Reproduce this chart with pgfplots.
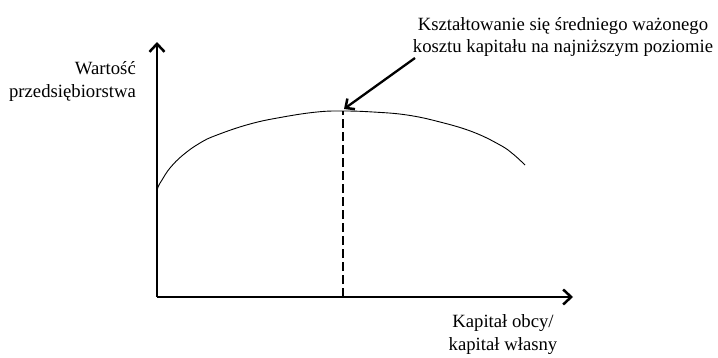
\documentclass[border=0pt]{standalone}
\usepackage{pgfplots}
\pgfplotsset{compat=1.18}
\usetikzlibrary{arrows.meta}
\usepackage{fontspec}
\setmainfont{Liberation Serif}

\begin{document}
\begin{tikzpicture}[x=1pt,y=1pt]
\useasboundingbox (0,0) rectangle (718,357);
\begin{axis}[
  at={(157pt,60pt)}, anchor=south west,
  scale only axis, width=416pt, height=255pt,
  xmin=0, xmax=416, ymin=0, ymax=255,
  axis lines=left, ticks=none,
  axis line style={line width=2pt, -{Straight Barb[length=8pt,width=15pt,line width=2.5pt]}},
  clip=false,
]
% firm value against the debt/equity ratio
\addplot[black, line width=0.9pt, smooth, tension=0.7] coordinates {
  (0,105) (1,110) (5,117) (13,129) (26,142) (43,154) (60,162) (93,173)
  (126,180) (160,185) (186,186) (216,185) (250,182) (283,175)
  (316,165) (343,152) (356,143) (368,132)
};
% optimum: minimum weighted average cost of capital
\addplot[black, line width=1.8pt, dash pattern=on 9pt off 4pt] coordinates {(186,0) (186,186)};
\draw[line width=2.3pt, -{Straight Barb[length=7pt,width=13pt,line width=2.5pt]}]
  (axis cs:258,239) -- (axis cs:187,188);
\end{axis}
\begin{scope}[font=\fontsize{18.7}{22.5}\selectfont]
\node[align=right, anchor=base east, inner sep=0pt] at (136,260) {Wartość\\przedsiębiorstwa};
\node[align=center, anchor=base, inner sep=0pt] at (563,304) {Kształtowanie się średniego ważonego\\kosztu kapitału na najniższym poziomie};
\node[align=center, anchor=base, inner sep=0pt] at (503,7) {Kapitał obcy/\\kapitał własny};
\end{scope}
\end{tikzpicture}
\end{document}
